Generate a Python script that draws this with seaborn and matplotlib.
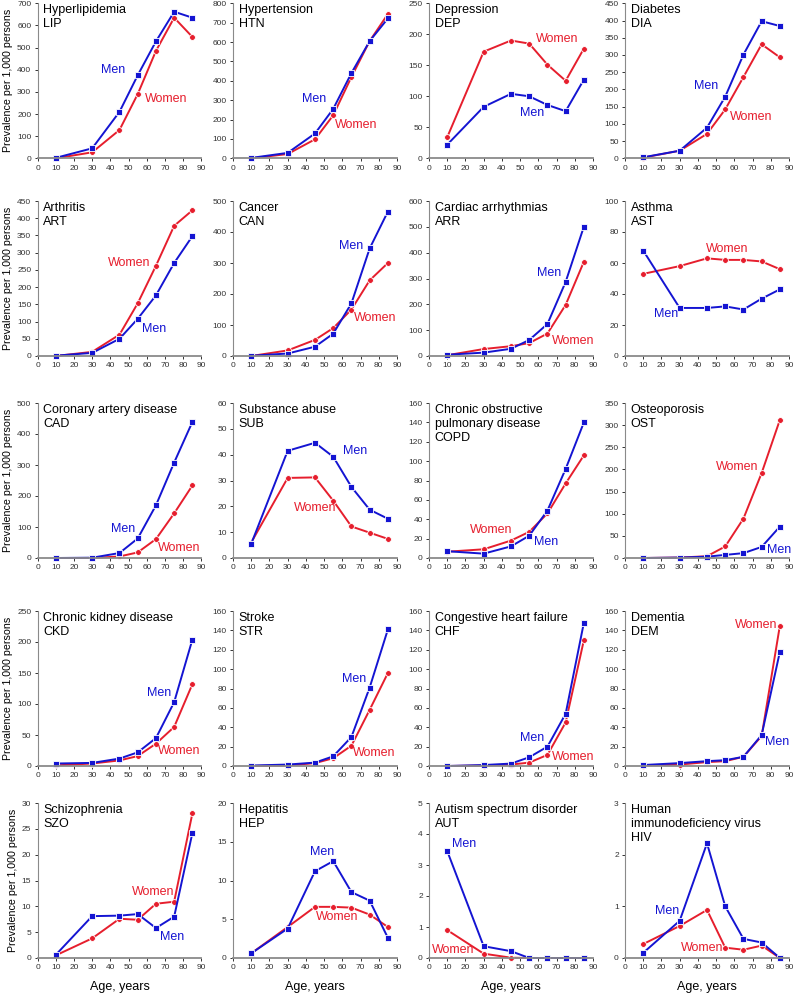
import pandas as pd
import matplotlib.pyplot as plt
import seaborn as sns

# age group midpoints
ages = [10, 30, 45, 55, 65, 75, 85]

# prevalence per 1,000 persons
lip_men = [2, 45, 210, 375, 528, 662, 635]
lip_women = [0, 27, 128, 290, 485, 635, 548]
htn_men = [2, 28, 128, 255, 440, 605, 722]
htn_women = [0, 22, 98, 222, 420, 605, 745]
dep_men = [22, 83, 104, 100, 86, 76, 127]
dep_women = [34, 172, 190, 185, 151, 125, 177]
dia_men = [3, 22, 89, 179, 301, 398, 384]
dia_women = [2, 22, 71, 142, 236, 331, 293]

art_men = [1, 9, 50, 108, 176, 270, 348]
art_women = [0, 12, 62, 153, 262, 378, 423]
can_men = [1, 8, 30, 72, 170, 347, 466]
can_women = [0, 18, 52, 90, 150, 244, 300]
arr_men = [5, 13, 28, 62, 124, 287, 501]
arr_women = [3, 27, 38, 50, 87, 198, 365]
ast_men = [68, 31, 31, 32, 30, 37, 43]
ast_women = [53, 58, 63, 62, 62, 61, 56]

cad_men = [0, 1, 16, 63, 170, 308, 439]
cad_women = [0, 0, 5, 18, 61, 144, 234]
sub_men = [5.5, 41.5, 44.6, 39.2, 27.5, 18.7, 15.2]
sub_women = [6, 31, 31.2, 22.2, 12.2, 9.8, 7.4]
copd_men = [7, 4.5, 12, 23, 49, 92, 140]
copd_women = [6.5, 9, 18, 27, 46, 77, 106]
ost_men = [0, 1, 3, 7, 11, 25, 71]
ost_women = [0, 1, 4, 26, 89, 192, 312]

ckd_men = [4, 5, 12, 22, 45, 103, 204]
ckd_women = [1, 4, 9, 16, 36, 63, 132]
str_men = [0.5, 1.5, 3.5, 10, 30, 81, 141]
str_women = [0, 0.5, 3, 8, 21, 58, 96]
chf_men = [0, 1, 2.5, 9, 20, 54, 148]
chf_women = [0, 0.5, 1.5, 3.5, 11.5, 45, 130]
dem_men = [1, 3, 5, 6, 9.5, 32, 118]
dem_women = [0.5, 1.5, 4, 5, 9.5, 31, 145]

szo_men = [0.6, 8.1, 8.2, 8.5, 5.8, 8.0, 24.2]
szo_women = [0.5, 3.8, 7.6, 7.4, 10.5, 10.9, 28]
hep_men = [0.6, 3.8, 11.2, 12.5, 8.5, 7.4, 2.6]
hep_women = [0.6, 4.0, 6.6, 6.6, 6.5, 5.6, 4.0]
aut_men = [3.45, 0.38, 0.22, 0, 0, 0, 0]
aut_women = [0.9, 0.14, 0.01, 0, 0, 0, 0]
hiv_men = [0.1, 0.72, 2.22, 1.0, 0.37, 0.3, 0]
hiv_women = [0.27, 0.62, 0.93, 0.2, 0.16, 0.24, 0]

titles = ['Hyperlipidemia\nLIP', 'Hypertension\nHTN', 'Depression\nDEP', 'Diabetes\nDIA',
          'Arthritis\nART', 'Cancer\nCAN', 'Cardiac arrhythmias\nARR', 'Asthma\nAST',
          'Coronary artery disease\nCAD', 'Substance abuse\nSUB',
          'Chronic obstructive\npulmonary disease\nCOPD', 'Osteoporosis\nOST',
          'Chronic kidney disease\nCKD', 'Stroke\nSTR', 'Congestive heart failure\nCHF',
          'Dementia\nDEM', 'Schizophrenia\nSZO', 'Hepatitis\nHEP',
          'Autism spectrum disorder\nAUT', 'Human\nimmunodeficiency virus\nHIV']
men = [lip_men, htn_men, dep_men, dia_men, art_men, can_men, arr_men, ast_men,
       cad_men, sub_men, copd_men, ost_men, ckd_men, str_men, chf_men, dem_men,
       szo_men, hep_men, aut_men, hiv_men]
women = [lip_women, htn_women, dep_women, dia_women, art_women, can_women, arr_women, ast_women,
         cad_women, sub_women, copd_women, ost_women, ckd_women, str_women, chf_women, dem_women,
         szo_women, hep_women, aut_women, hiv_women]
y_max = [700, 800, 250, 450, 450, 500, 600, 100, 500, 60, 160, 350,
         250, 160, 160, 160, 30, 20, 5, 3]
y_step = [100, 100, 50, 50, 50, 100, 100, 20, 100, 10, 20, 50,
          50, 20, 20, 20, 5, 5, 1, 1]

# where the "Men" / "Women" labels sit (data coords, left edge / vertical centre)
men_lab = [(35, 399), (38, 306), (50, 73), (38, 210), (57.5, 77), (58, 355), (59.4, 321), (15.7, 27),
           (40.3, 95), (60.4, 41.3), (57.7, 16.6), (78.2, 19), (60.1, 118), (59.9, 89.5),
           (49.7, 29), (76.9, 24.8), (67.2, 4.1), (42.1, 13.7), (12.7, 3.67), (16.4, 0.9)]
women_lab = [(58.8, 266), (56, 172), (58.6, 192), (57.7, 121), (38.4, 269), (66.4, 123), (67.7, 57),
             (44.2, 69.3), (66.2, 33), (33.3, 19.3), (22.5, 28.7), (49.8, 206), (65.9, 24),
             (66, 13.4), (67.2, 9.3), (60.1, 146), (52, 12.7), (45.4, 5.3), (1.6, 0.27), (30.5, 0.2)]

blue = '#1414D2'
red = '#E61E2D'

sns.set_theme(style='white')
plt.rcParams['font.family'] = ['Liberation Sans', 'DejaVu Sans']

fig = plt.figure(figsize=(8, 9.94), dpi=100)
W, H = 800, 994
col_left = [37.5, 233, 429, 625]
row_top = [3.3, 201, 403, 611, 803]
ax_w, ax_h = 164, 155

for i, title in enumerate(titles):
    r, c = divmod(i, 4)
    ax = fig.add_axes([col_left[c] / W, 1 - (row_top[r] + ax_h) / H, ax_w / W, ax_h / H])
    df = pd.DataFrame({'age': ages * 2,
                       'prev': women[i] + men[i],
                       'sex': ['Women'] * len(ages) + ['Men'] * len(ages)})
    sns.lineplot(data=df, x='age', y='prev', hue='sex', style='sex',
                 hue_order=['Women', 'Men'], style_order=['Women', 'Men'],
                 palette={'Women': red, 'Men': blue},
                 markers={'Women': 'o', 'Men': 's'}, dashes=False,
                 markersize=4.2, markeredgecolor='white', markeredgewidth=0.6,
                 linewidth=1.4, legend=False, ax=ax, clip_on=False)
    ax.set_xlim(0, 90)
    ax.set_ylim(0, y_max[i])
    ax.set_xticks(range(0, 91, 10))
    ax.set_yticks([v * y_step[i] for v in range(int(round(y_max[i] / y_step[i])) + 1)])
    ax.yaxis.set_major_formatter(plt.FuncFormatter(lambda v, p: f'{v:g}'))
    ax.tick_params(labelsize=6, colors='#333333', length=2.5, width=0.7,
                   direction='out', pad=2, bottom=True, left=True)
    for s in ['top', 'right']:
        ax.spines[s].set_visible(False)
    for s in ['left', 'bottom']:
        ax.spines[s].set_color('#8a8a8a')
    ax.spines['left'].set_linewidth(0.8)
    ax.spines['bottom'].set_linewidth(1.3)
    ax.set_xlabel('')
    ax.set_ylabel('')
    ax.text(0.035, 0.995, title, transform=ax.transAxes, ha='left', va='top',
            fontsize=9, color='black', linespacing=1.25)
    ax.text(men_lab[i][0], men_lab[i][1], 'Men', color=blue, fontsize=9,
            ha='left', va='center')
    ax.text(women_lab[i][0], women_lab[i][1], 'Women', color=red, fontsize=9,
            ha='left', va='center')
    if c == 0:
        ax.set_ylabel('Prevalence per 1,000 persons', fontsize=7.7, color='black', labelpad=3)
    if r == 4:
        ax.set_xlabel('Age, years', fontsize=9, color='black', labelpad=7)

# keep the y labels of column 1 aligned
fig.align_ylabels()
plt.savefig('out.png', dpi=100, facecolor='white')
